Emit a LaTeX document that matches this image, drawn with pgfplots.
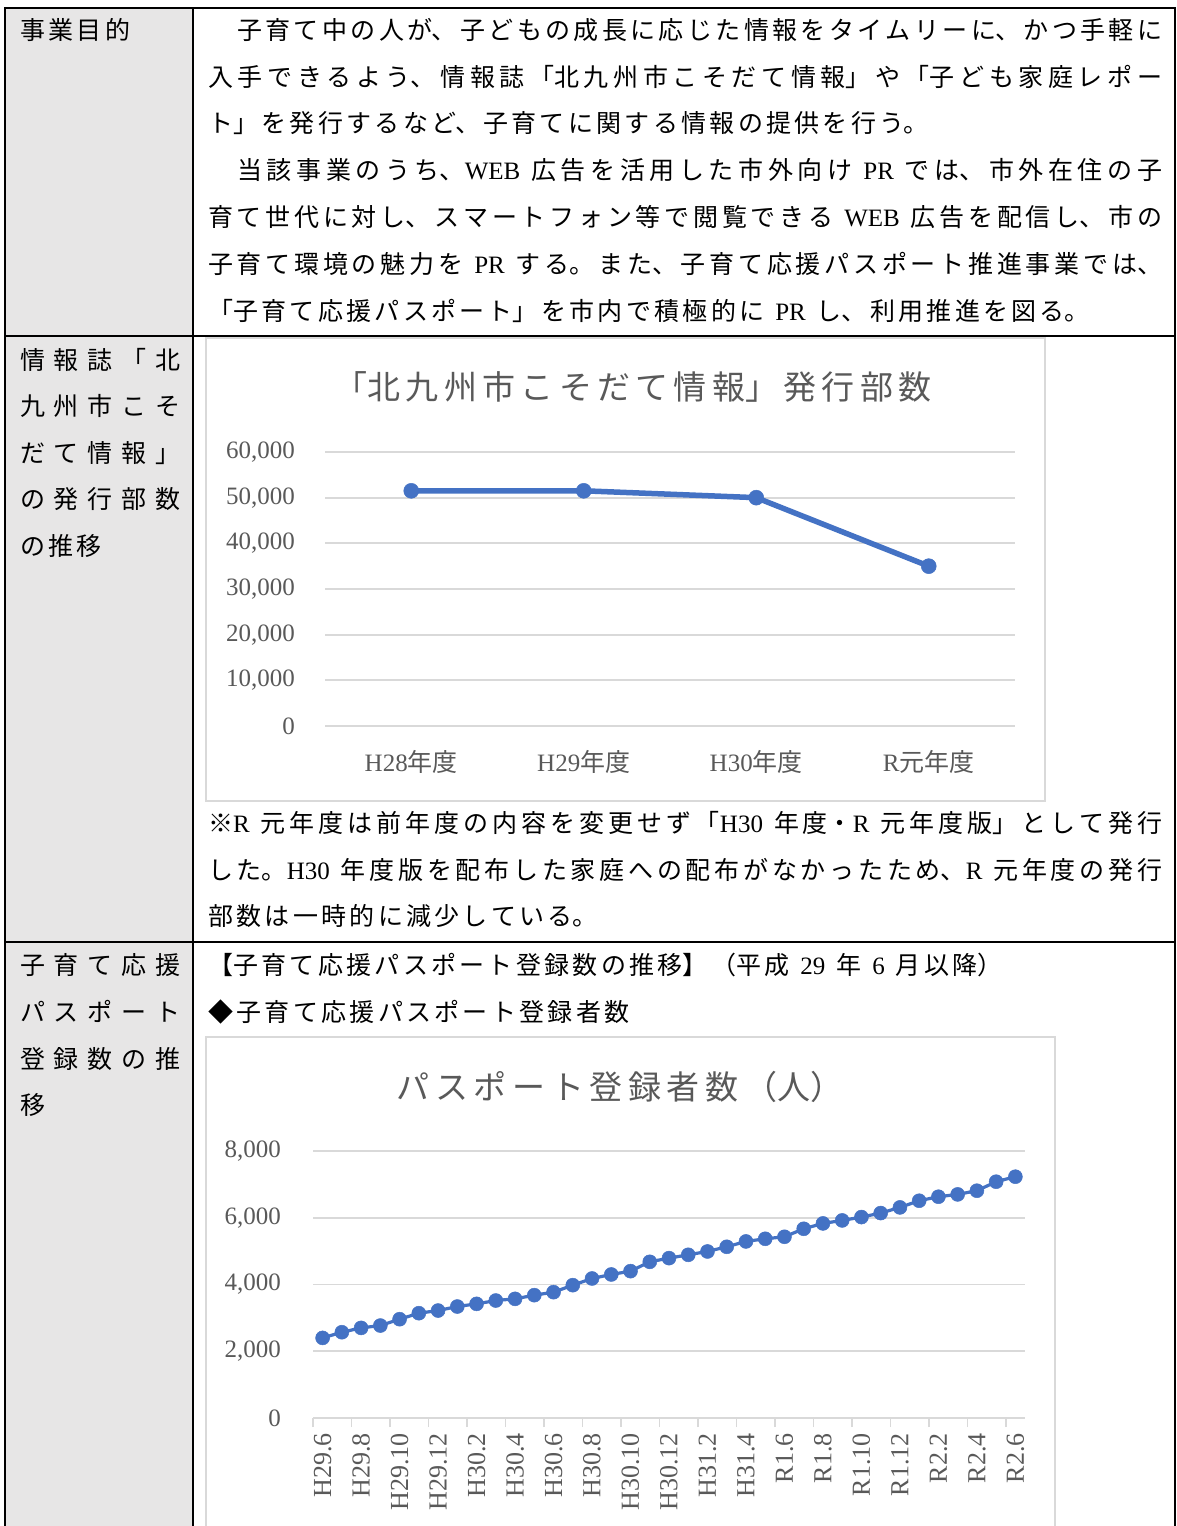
\documentclass[border=0pt]{standalone}
\usepackage{fontspec}
\setmainfont{Noto Sans CJK JP}
\newfontfamily\lat{Liberation Serif}
\usepackage{pgfplots}
\pgfplotsset{compat=1.18}
\usepackage{pgfplotstable}
\definecolor{blu}{HTML}{4472C4}
\definecolor{gridc}{HTML}{D9D9D9}
\definecolor{txtg}{HTML}{595959}
\definecolor{cellg}{HTML}{E7E6E6}
\XeTeXlinebreaklocale "ja"
\XeTeXlinebreakskip=0pt plus 1pt
\newcommand\s{\hskip 11pt\relax}

\pgfplotstableread{
x y
0 51500
1 51500
2 50000
3 35000
}\issues

\pgfplotstableread{
x y
0 2400
1 2570
2 2700
3 2770
4 2960
5 3140
6 3220
7 3340
8 3420
9 3520
10 3570
11 3680
12 3770
13 3980
14 4180
15 4300
16 4400
17 4680
18 4790
19 4890
20 4990
21 5130
22 5290
23 5370
24 5430
25 5670
26 5830
27 5920
28 6020
29 6140
30 6310
31 6510
32 6630
33 6700
34 6810
35 7080
36 7230
}\passport

% natural line: x, baseline y, text
\newcommand\natl[3]{\node[anchor=base west, inner sep=0pt, text width=1000pt, align=left] at (#1pt,#2pt) {\fontsize{25pt}{25pt}\selectfont\XeTeXlinebreakskip=3.3pt\relax #3\par};}
% justified line: x, baseline y, width, text
\newcommand\jusl[4]{\node[anchor=base west, inner sep=0pt, text width=#3pt] at (#1pt,#2pt) {\fontsize{25pt}{25pt}\selectfont\XeTeXlinebreakskip=3pt plus 40pt minus 3pt\relax\parindent=0pt\leftskip=0pt\rightskip=0pt\parfillskip=0pt\relax #4\par};}
% spread left-column label
\newcommand\spread[2]{\node[anchor=base west, inner sep=0pt] at (20pt,#1pt) {\fontsize{25pt}{25pt}\selectfont\hbox to 160pt{#2}};}

\begin{document}
\begin{tikzpicture}
\path[use as bounding box, clip] (0pt,0pt) rectangle (1176pt,1526pt);
\fill[white] (0pt,0pt) rectangle (1176pt,1526pt);
% grey column
\fill[cellg] (5pt,-10pt) rectangle (193pt,1518pt);
% chart boxes
\draw[gridc, fill=white, line width=1.5pt] (206pt,725pt) rectangle (1045pt,1188pt);
\draw[gridc, fill=white, line width=1.5pt] (206pt,-20pt) rectangle (1055pt,489pt);
% table lines
\draw[black, line width=1.8pt] (5pt,-10pt) -- (5pt,1518pt) -- (1175pt,1518pt) -- (1175pt,-10pt);
\draw[black, line width=1.8pt] (193pt,-10pt) -- (193pt,1518pt);
\draw[black, line width=1.8pt] (5pt,1190pt) -- (1175pt,1190pt);
\draw[black, line width=1.8pt] (5pt,584pt) -- (1175pt,584pt);

% left column labels
\natl{20}{1486.5}{事業目的}
\spread{1156.5}{情\hfill 報\hfill 誌\hfill 「\hfill 北}
\spread{1110.5}{九\hfill 州\hfill 市\hfill こ\hfill そ}
\spread{1063.5}{だ\hfill て\hfill 情\hfill 報\hfill 」}
\spread{1017.5}{の\hfill 発\hfill 行\hfill 部\hfill 数}
\natl{20}{970.5}{の推移}
\spread{551.5}{子\hfill 育\hfill て\hfill 応\hfill 援}
\spread{504.5}{パ\hfill ス\hfill ポ\hfill ー\hfill ト}
\spread{457.5}{登\hfill 録\hfill 数\hfill の\hfill 推}
\natl{20}{411.5}{移}

% row 1 text
\jusl{237}{1486.5}{925}{子育て中の人が、子どもの成長に応じた情報をタイムリーに、かつ手軽に}
\jusl{208}{1439.5}{954}{入手できるよう、情報誌「北九州市こそだて情報」や「子ども家庭レポー}
\natl{208}{1393.5}{ト」を発行するなど、子育てに関する情報の提供を行う。}
\jusl{237}{1346.5}{925}{当該事業のうち、{\lat WEB}\s 広告を活用した市外向け\s{\lat PR}\s では、市外在住の子}
\jusl{208}{1299.5}{954}{育て世代に対し、スマートフォン等で閲覧できる\s{\lat WEB}\s 広告を配信し、市の}
\jusl{208}{1252.5}{954}{子育て環境の魅力を\s{\lat PR}\s する。また、子育て応援パスポート推進事業では、}
\natl{208}{1205.5}{「子育て応援パスポート」を市内で積極的に\s{\lat PR}\s し、利用推進を図る。}

% note
\jusl{208}{693.5}{954}{※{\lat R}\s 元年度は前年度の内容を変更せず「{\lat H30}\s 年度・{\lat R}\s 元年度版」として発行}
\jusl{208}{646.5}{954}{した。{\lat H30}\s 年度版を配布した家庭への配布がなかったため、{\lat R}\s 元年度の発行}
\natl{208}{600.5}{部数は一時的に減少している。}

% row 3 text
\natl{208}{551.5}{【子育て応援パスポート登録数の推移】（平成\s{\lat 29}\s 年\s{\lat 6}\s 月以降）}
\natl{208}{504.5}{◆子育て応援パスポート登録者数}

% titles
\node[anchor=base, inner sep=0pt, text width=900pt, align=center, text=txtg] at (633pt,1126.5pt) {\fontsize{33pt}{33pt}\selectfont\XeTeXlinebreakskip=5.3pt\relax 「北九州市こそだて情報」発行部数\par};
\node[anchor=base, inner sep=0pt, text width=900pt, align=center, text=txtg] at (620pt,426.5pt) {\fontsize{33pt}{33pt}\selectfont\XeTeXlinebreakskip=5.6pt\relax パスポート登録者数（人）\par};

% chart 1
\begin{axis}[at={(325pt,800pt)}, anchor=south west, scale only axis,
  width=690pt, height=274pt,
  xmin=-0.5, xmax=3.5, ymin=0, ymax=60000,
  xtick={0,1,2,3},
  xticklabels={{\lat H28}年度,{\lat H29}年度,{\lat H30}年度,{\lat R}元年度},
  ytick={0,10000,20000,30000,40000,50000,60000},
  axis line style={draw=none}, major tick length=0pt,
  ymajorgrids, grid style={draw=gridc, line width=1.8pt},
  scaled y ticks=false,
  /pgf/number format/assume math mode=true,
  /pgf/number format/1000 sep={,},
  yticklabel style={font=\lat\fontsize{25pt}{25pt}\selectfont, text=txtg, anchor=east, inner xsep=30pt, inner ysep=0pt},
  xticklabel style={font=\fontsize{25pt}{25pt}\selectfont, text=txtg, anchor=base, inner sep=0pt, yshift=-46pt},
  clip=false]
\addplot[blu, line width=5.5pt, mark=*, mark size=7.5pt, mark options={line width=0.5pt}] table[x=x,y=y]{\issues};
\end{axis}

% chart 2
\begin{axis}[at={(313pt,108pt)}, anchor=south west, scale only axis,
  width=712pt, height=267pt,
  xmin=-0.5, xmax=36.5, ymin=0, ymax=8000,
  axis x line*=bottom, axis y line*=left,
  x axis line style={draw=gridc, line width=1.8pt, -},
  y axis line style={draw=none},
  xtick={-0.5,1.5,...,35.5}, xticklabels={},
  tick align=outside, major tick length=9pt,
  x tick style={draw=gridc, line width=1.5pt},
  y tick style={draw=none},
  ytick={0,2000,4000,6000,8000},
  ymajorgrids, grid style={draw=gridc, line width=1.8pt},
  extra x ticks={0,2,...,36},
  extra x tick labels={H29.6,H29.8,H29.10,H29.12,H30.2,H30.4,H30.6,H30.8,H30.10,H30.12,H31.2,H31.4,R1.6,R1.8,R1.10,R1.12,R2.2,R2.4,R2.6},
  extra x tick style={major tick length=0pt},
  scaled y ticks=false,
  /pgf/number format/assume math mode=true,
  /pgf/number format/1000 sep={,},
  yticklabel style={font=\lat\fontsize{25pt}{25pt}\selectfont, text=txtg, anchor=east, inner xsep=23pt, inner ysep=0pt},
  xticklabel style={font=\lat\fontsize{26pt}{26pt}\selectfont, text=txtg, rotate=90, anchor=east, inner xsep=15pt, inner ysep=0pt},
  clip=false]
\addplot[blu, line width=3.2pt, mark=*, mark size=7pt, mark options={line width=0.5pt}] table[x=x,y=y]{\passport};
\end{axis}
\end{tikzpicture}
\end{document}
